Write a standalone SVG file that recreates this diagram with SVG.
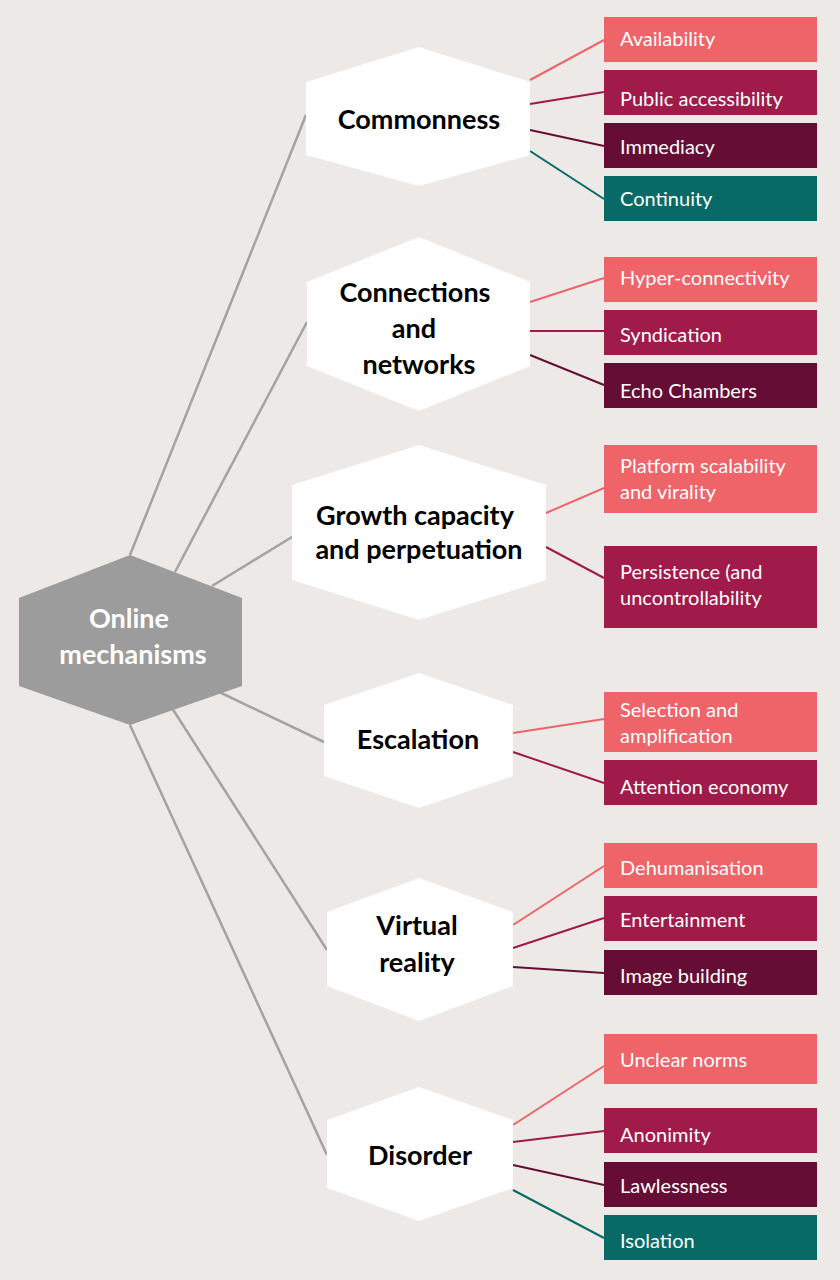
<svg xmlns="http://www.w3.org/2000/svg" width="840" height="1280" viewBox="0 0 840 1280">
<style>
.hx{fill:#fff}
.ht{font-family:Lato,"Noto Sans",sans-serif;font-weight:bold;font-size:27px;fill:#000;text-anchor:middle}
.bt{font-family:Lato,"Noto Sans",sans-serif;font-size:20px;fill:#fff}
.c1{fill:#EE6468}.c2{fill:#A01A4A}.c3{fill:#660D35}.c4{fill:#086A66}
.g{stroke:#A3A3A3;stroke-width:2.5;fill:none}
.l1{stroke:#EE6468;stroke-width:2}.l2{stroke:#A01A4A;stroke-width:2}.l3{stroke:#660D35;stroke-width:2}.l4{stroke:#086A66;stroke-width:2}
</style>
<rect width="840" height="1280" fill="#ECE9E7"/>
<g id="connectors">
<line class="g" x1="130" y1="555" x2="306" y2="115"/>
<line class="g" x1="175" y1="572" x2="307" y2="322"/>
<line class="g" x1="212" y1="586" x2="292" y2="537"/>
<line class="g" x1="215" y1="690" x2="324" y2="742"/>
<line class="g" x1="172" y1="708" x2="327" y2="950"/>
<line class="g" x1="130" y1="725" x2="327" y2="1155"/>
<line class="l1" x1="530" y1="80" x2="604" y2="40"/>
<line class="l2" x1="530" y1="104" x2="604" y2="92"/>
<line class="l3" x1="530" y1="130" x2="604" y2="146"/>
<line class="l4" x1="530" y1="151" x2="604" y2="199"/>
<line class="l1" x1="530" y1="302" x2="604" y2="278"/>
<line class="l2" x1="530" y1="331" x2="604" y2="331"/>
<line class="l3" x1="530" y1="355" x2="604" y2="385"/>
<line class="l1" x1="546" y1="513" x2="604" y2="488"/>
<line class="l2" x1="546" y1="547" x2="604" y2="578"/>
<line class="l1" x1="513" y1="733" x2="604" y2="719"/>
<line class="l2" x1="513" y1="752" x2="604" y2="783"/>
<line class="l1" x1="513" y1="925" x2="604" y2="866"/>
<line class="l2" x1="513" y1="948" x2="604" y2="918"/>
<line class="l3" x1="513" y1="967" x2="604" y2="973"/>
<line class="l1" x1="513" y1="1125" x2="604" y2="1066"/>
<line class="l2" x1="513" y1="1142" x2="604" y2="1131"/>
<line class="l3" x1="513" y1="1165" x2="604" y2="1185"/>
<line class="l4" x1="513" y1="1190" x2="604" y2="1238"/>
</g>
<g id="online">
<polygon points="130,555 242,598 242,686 130,725 19,686 19,598" fill="#9B9C9B"/>
<text class="ht" x="129" y="628" style="fill:#fff">Online</text>
<text class="ht" x="133" y="664" style="fill:#fff">mechanisms</text>
</g>
<g id="commonness"><polygon class="hx" points="419,47 530,82 530,155 419,186 306,155 306,82"/><text class="ht" x="419" y="129">Commonness</text></g>
<g id="connections"><polygon class="hx" points="419,237 530,282 530,366 419,411 307,366 307,282"/><text class="ht" x="415" y="302">Connections</text><text class="ht" x="414" y="338">and</text><text class="ht" x="419" y="374">networks</text></g>
<g id="growth"><polygon class="hx" points="419,445 546,485 546,580 419,620 292,580 292,485"/><text class="ht" x="415" y="525">Growth capacity</text><text class="ht" x="419" y="559">and perpetuation</text></g>
<g id="escalation"><polygon class="hx" points="419,673 513,705 513,776 419,808 324,776 324,705"/><text class="ht" x="418" y="749">Escalation</text></g>
<g id="virtual"><polygon class="hx" points="419,878 513,912 513,986 419,1021 327,986 327,912"/><text class="ht" x="417" y="935">Virtual</text><text class="ht" x="417" y="972">reality</text></g>
<g id="disorder"><polygon class="hx" points="419,1087 513,1120 513,1188 419,1221 327,1188 327,1120"/><text class="ht" x="420" y="1165">Disorder</text></g>
<g id="b-availability"><rect class="c1" x="604" y="17" width="213" height="45"/><text class="bt" x="620" y="46">Availability</text></g>
<g id="b-public"><rect class="c2" x="604" y="70" width="213" height="45"/><text class="bt" x="620" y="106">Public accessibility</text></g>
<g id="b-immediacy"><rect class="c3" x="604" y="123" width="213" height="45"/><text class="bt" x="620" y="154">Immediacy</text></g>
<g id="b-continuity"><rect class="c4" x="604" y="176" width="213" height="45"/><text class="bt" x="620" y="206">Continuity</text></g>
<g id="b-hyper"><rect class="c1" x="604" y="257" width="213" height="45"/><text class="bt" x="620" y="285">Hyper-connectivity</text></g>
<g id="b-syndication"><rect class="c2" x="604" y="310" width="213" height="45"/><text class="bt" x="620" y="342">Syndication</text></g>
<g id="b-echo"><rect class="c3" x="604" y="363" width="213" height="45"/><text class="bt" x="620" y="398">Echo Chambers</text></g>
<g id="b-platform"><rect class="c1" x="604" y="445" width="213" height="68"/><text class="bt" x="620" y="473">Platform scalability</text><text class="bt" x="620" y="499">and virality</text></g>
<g id="b-persistence"><rect class="c2" x="604" y="546" width="213" height="82"/><text class="bt" x="620" y="579">Persistence (and</text><text class="bt" x="620" y="605">uncontrollability</text></g>
<g id="b-selection"><rect class="c1" x="604" y="692" width="213" height="60"/><text class="bt" x="620" y="717">Selection and</text><text class="bt" x="620" y="743">amplification</text></g>
<g id="b-attention"><rect class="c2" x="604" y="760" width="213" height="45"/><text class="bt" x="620" y="794">Attention economy</text></g>
<g id="b-dehuman"><rect class="c1" x="604" y="843" width="213" height="45"/><text class="bt" x="620" y="875">Dehumanisation</text></g>
<g id="b-entertain"><rect class="c2" x="604" y="896" width="213" height="45"/><text class="bt" x="620" y="927">Entertainment</text></g>
<g id="b-image"><rect class="c3" x="604" y="950" width="213" height="45"/><text class="bt" x="620" y="983">Image building</text></g>
<g id="b-unclear"><rect class="c1" x="604" y="1034" width="213" height="50"/><text class="bt" x="620" y="1067">Unclear norms</text></g>
<g id="b-anonimity"><rect class="c2" x="604" y="1108" width="213" height="45"/><text class="bt" x="620" y="1142">Anonimity</text></g>
<g id="b-lawless"><rect class="c3" x="604" y="1162" width="213" height="45"/><text class="bt" x="620" y="1193">Lawlessness</text></g>
<g id="b-isolation"><rect class="c4" x="604" y="1215" width="213" height="45"/><text class="bt" x="620" y="1248">Isolation</text></g>
</svg>
